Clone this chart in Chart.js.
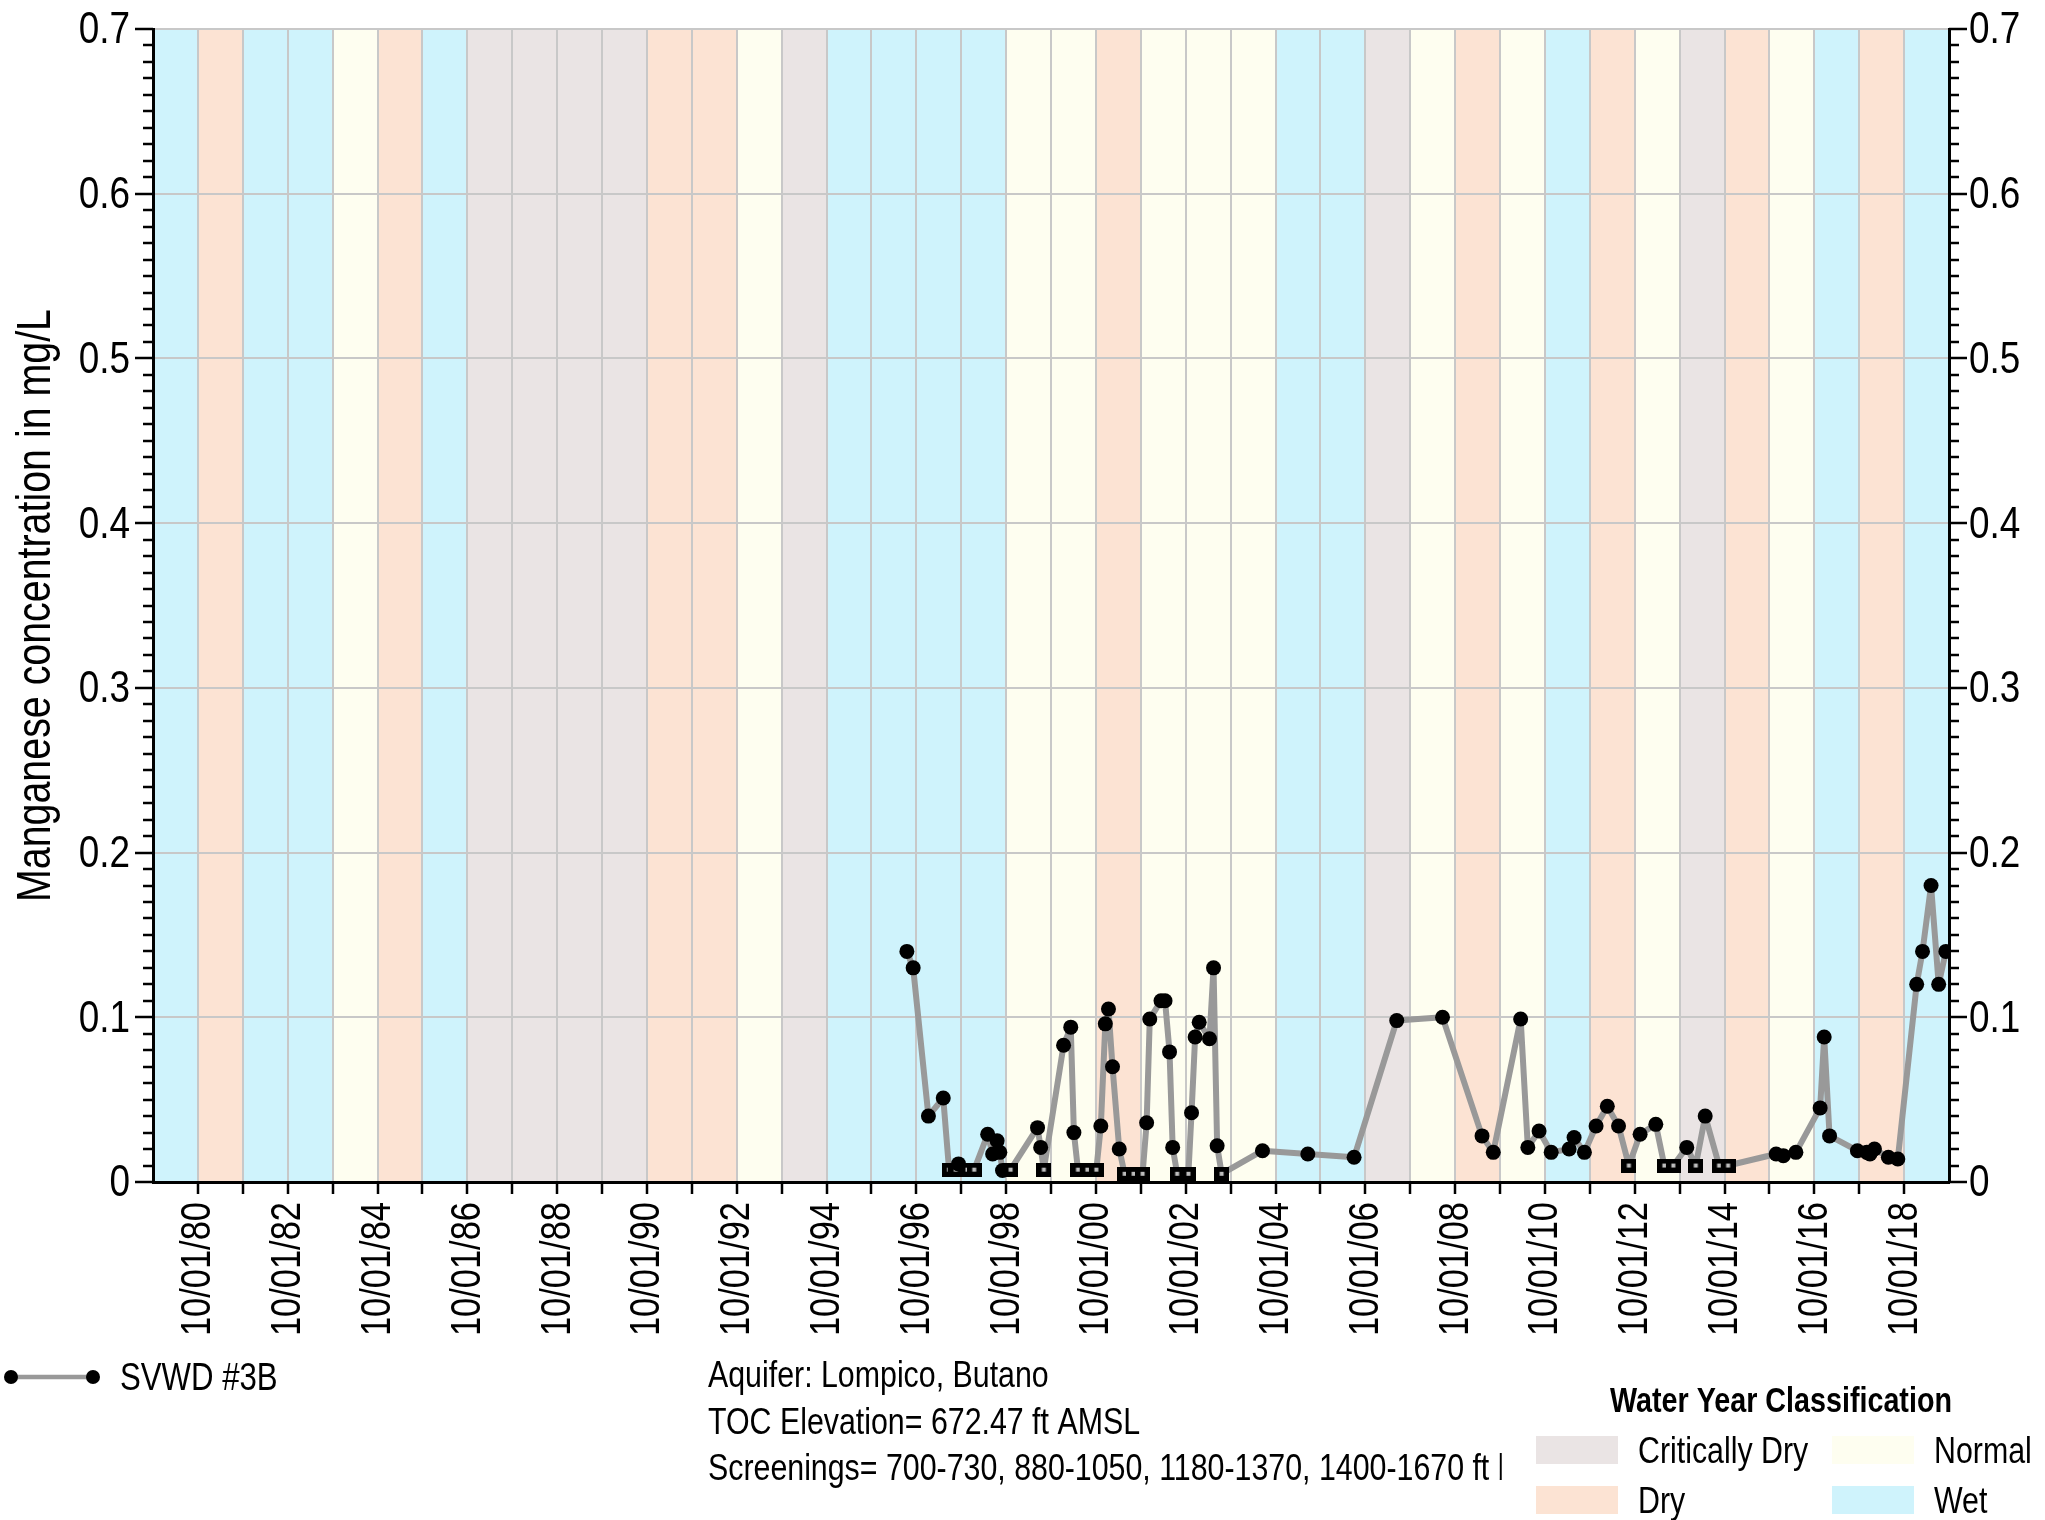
<!DOCTYPE html>
<html>
<head>
<meta charset="utf-8">
<script src="https://cdn.jsdelivr.net/npm/chart.js@4.4.1/dist/chart.umd.min.js"></script>
<style>
html,body{margin:0;padding:0;background:#ffffff;}
canvas{display:block;}
</style>
</head>
<body>
<canvas id="chart" width="2045" height="1520"></canvas>
<script>
// ---------- DATA ----------
const waterYears = [1980,1981,1982,1983,1984,1985,1986,1987,1988,1989,1990,1991,1992,1993,1994,1995,1996,1997,1998,1999,
                    2000,2001,2002,2003,2004,2005,2006,2007,2008,2009,2010,2011,2012,2013,2014,2015,2016,2017,2018,2019];
const waterYearTypes = ['W','D','W','W','N','D','W','C','C','C','C','D','D','N','C','W','W','W','W','N',
                        'N','D','N','N','N','W','W','C','N','D','N','W','D','N','C','D','N','W','D','W'];
const classNames = {C:'Critically Dry', N:'Normal', D:'Dry', W:'Wet'};

// sample dates as decimal years
const sampleYears = [1996.54,1996.68,1997.02,1997.35,1997.48,1997.63,1997.69,1997.89,1998.04,1998.34,1998.45,1998.55,1998.61,1998.67,1998.85,
  1999.45,1999.52,1999.59,2000.03,2000.19,2000.26,2000.35,2000.56,2000.76,2000.86,2000.96,2001.03,2001.12,2001.27,
  2001.39,2001.59,2001.79,2001.88,2001.95,2002.20,2002.29,2002.39,2002.46,2002.56,2002.81,2002.88,2002.96,2003.05,2003.28,2003.37,2003.45,2003.55,
  2004.46,2005.47,2006.50,2007.45,2008.47,2009.35,2009.60,2010.21,2010.37,2010.62,2010.89,2011.29,2011.40,2011.63,2011.89,2012.14,2012.39,2012.62,
  2012.87,2013.22,2013.41,2013.61,2013.91,2014.11,2014.32,2014.63,2014.83,2015.90,2016.06,2016.34,2016.88,2016.97,2017.09,2017.71,2017.92,2017.99,
  2018.09,2018.40,2018.61,2019.03,2019.16,2019.35,2019.52,2019.68];
// manganese concentration, mg/L
const manganese = [0.14,0.13,0.04,0.051,0.0075,0.0075,0.011,0.0075,0.0075,0.029,0.017,0.025,0.018,0.007,0.0075,
  0.033,0.021,0.0075,0.083,0.094,0.030,0.0075,0.0075,0.0075,0.034,0.096,0.105,0.070,0.020,
  0.005,0.005,0.005,0.036,0.099,0.110,0.110,0.079,0.021,0.005,0.005,0.042,0.088,0.097,0.087,0.13,0.022,0.005,
  0.019,0.017,0.015,0.098,0.100,0.028,0.018,0.099,0.021,0.031,0.018,0.020,0.027,0.018,0.034,0.046,0.034,0.010,
  0.029,0.035,0.010,0.010,0.021,0.010,0.040,0.010,0.010,0.017,0.016,0.018,0.045,0.088,0.028,0.019,0.018,0.017,
  0.020,0.015,0.014,0.12,0.14,0.18,0.12,0.14];
// 1 = non-detect (plotted as square at reporting limit)
const nonDetect = [0,0,0,0,1,1,0,1,1,0,0,0,0,0,1,
  0,0,1,0,0,0,1,1,1,0,0,0,0,0,
  1,1,1,0,0,0,0,0,0,1,1,0,0,0,0,0,0,1,
  0,0,0,0,0,0,0,0,0,0,0,0,0,0,0,0,0,1,
  0,0,1,1,0,1,0,1,1,0,0,0,0,0,0,0,0,0,
  0,0,0,0,0,0,0,0];

const xTickYears = [1980,1981,1982,1983,1984,1985,1986,1987,1988,1989,1990,1991,1992,1993,1994,1995,1996,1997,1998,1999,
                    2000,2001,2002,2003,2004,2005,2006,2007,2008,2009,2010,2011,2012,2013,2014,2015,2016,2017,2018];
const yTickValues = [0,0.1,0.2,0.3,0.4,0.5,0.6,0.7];
const yTickLabels = ['0','0.1','0.2','0.3','0.4','0.5','0.6','0.7'];

const seriesName = 'SVWD #3B';
const yTitle = 'Manganese concentration in mg/L';
const infoLines = ['Aquifer: Lompico, Butano','TOC Elevation= 672.47 ft AMSL','Screenings= 700-730, 880-1050, 1180-1370, 1400-1670 ft bgs'];
const legendTitle = 'Water Year Classification';

// ---------- STYLE ----------
const typeColors = {W:'#cff3fc', D:'#fce3d3', N:'#fefef0', C:'#eae4e4'};

function hasFont(name){
  const c = document.createElement('canvas').getContext('2d');
  const s = 'abcdefghijklmnopqrstuvwxyz0123456789ABCDEF';
  c.font = '40px monospace'; const a = c.measureText(s).width;
  c.font = "40px '" + name + "', monospace"; const b = c.measureText(s).width;
  return Math.abs(a-b) > 0.5;
}
const NARROW_OK = hasFont('Liberation Sans Narrow');
const FAM = NARROW_OK ? "'Liberation Sans Narrow'" : "'Liberation Sans', Arial, sans-serif";
const SX = NARROW_OK ? 1 : 0.82;   // horizontal condensing to mimic a narrow face

// draw condensed text; rot in radians
function ntext(ctx, s, x, y, size, align, baseline, bold, rot){
  ctx.save();
  ctx.translate(x, y);
  if (rot) ctx.rotate(rot);
  ctx.scale(SX, 1);
  ctx.font = (bold ? 'bold ' : '') + size + 'px ' + FAM;
  ctx.textAlign = align || 'left';
  ctx.textBaseline = baseline || 'alphabetic';
  ctx.fillStyle = '#000';
  ctx.fillText(s, 0, 0);
  ctx.restore();
}
function nwidth(ctx, s, size, bold){
  ctx.save();
  ctx.font = (bold ? 'bold ' : '') + size + 'px ' + FAM;
  const w = ctx.measureText(s).width * SX;
  ctx.restore();
  return w;
}

const sq = document.createElement('canvas');
sq.width = 15; sq.height = 14;
(function(){
  const g = sq.getContext('2d');
  g.fillStyle = '#000'; g.fillRect(0,0,15,14);
  g.fillStyle = '#bdbdbd'; g.fillRect(5.5,5,4,4);
})();

const points = sampleYears.map((t,i)=>({x:t, y:manganese[i]}));

// ---------- PLUGINS ----------
const bandsPlugin = {
  id:'bands',
  beforeDraw(chart){
    const {ctx, chartArea:a, scales:{x}} = chart;
    ctx.save();
    waterYears.forEach((wy,i)=>{
      const x0 = x.getPixelForValue(wy-1+0.75), x1 = x.getPixelForValue(wy+0.75);
      ctx.fillStyle = typeColors[waterYearTypes[i]];
      ctx.fillRect(x0, a.top, x1-x0, a.bottom-a.top);
    });
    ctx.restore();
  }
};

function seg(ctx,x0,y0,x1,y1){ctx.beginPath();ctx.moveTo(x0,y0);ctx.lineTo(x1,y1);ctx.stroke();}

const decorPlugin = {
  id:'decor',
  afterDraw(chart){
    const {ctx, chartArea:a, scales:{x,y}} = chart;
    ctx.save();
    ctx.strokeStyle = '#000'; ctx.lineWidth = 2.5;
    for(let i=0;i<=70;i++){
      const py = Math.round(y.getPixelForValue(i/100));
      const len = (i%10===0) ? 18 : 10;
      seg(ctx, a.left-len, py, a.left, py);
      seg(ctx, a.right, py, a.right+len, py);
    }
    xTickYears.forEach(yr=>{
      const px = Math.round(x.getPixelForValue(yr+0.75));
      seg(ctx, px, a.bottom, px, a.bottom+12);
    });

    // y tick labels (both sides)
    yTickValues.forEach((v,i)=>{
      const py = y.getPixelForValue(v);
      ntext(ctx, yTickLabels[i], a.left-23, py+2, 45, 'right', 'middle');
      ntext(ctx, yTickLabels[i], a.right+20, py+2, 45, 'left', 'middle');
    });
    // x tick labels (every other year), rotated
    xTickYears.forEach(yr=>{
      if (yr % 2 !== 0) return;
      const px = x.getPixelForValue(yr+0.75);
      ntext(ctx, '10/01/' + String(yr % 100).padStart(2,'0'), px+1, a.bottom+20, 42, 'right', 'middle', false, -Math.PI/2);
    });

    // y title
    ntext(ctx, yTitle, 37, (a.top+a.bottom)/2, 48, 'center', 'middle', false, -Math.PI/2);

    // series legend
    ctx.strokeStyle = '#999999'; ctx.lineWidth = 4.5;
    seg(ctx, 11, 1377, 93, 1377);
    ctx.fillStyle = '#000';
    [11,93].forEach(cx=>{ctx.beginPath();ctx.arc(cx,1377,7,0,Math.PI*2);ctx.fill();});
    ntext(ctx, seriesName, 120, 1390, 38);

    // info text
    ntext(ctx, infoLines[0], 708, 1387, 37);
    ntext(ctx, infoLines[1], 708, 1434, 37);
    const lastVisible = infoLines[2].replace(/bgs$/, '');
    const clipX = 708 + nwidth(ctx, lastVisible, 37) + 4;
    ctx.save();
    ctx.beginPath(); ctx.rect(700, 1440, clipX-700, 60); ctx.clip();
    ntext(ctx, infoLines[2], 708, 1480, 37);
    ctx.restore();

    // water year legend
    ntext(ctx, legendTitle, 1781, 1412, 35, 'center', 'alphabetic', true);
    const items = [['C',1536,1436],['N',1832,1436],['D',1536,1486],['W',1832,1486]];
    items.forEach(([k,bx,by])=>{
      ctx.fillStyle = typeColors[k];
      ctx.fillRect(bx, by, 82, 28);
      ntext(ctx, classNames[k], bx+102, by+27, 37);
    });
    ctx.restore();
  }
};

// ---------- CHART ----------
new Chart(document.getElementById('chart'), {
  type: 'line',
  data: {
    datasets: [{
      label: seriesName,
      data: points,
      borderColor: '#999999',
      borderWidth: 6,
      borderJoinStyle: 'round',
      borderCapStyle: 'round',
      tension: 0,
      pointRadius: 7.5,
      pointHoverRadius: 7.5,
      pointBackgroundColor: '#000',
      pointBorderColor: '#000',
      pointBorderWidth: 0,
      pointStyle: ctx => nonDetect[ctx.dataIndex] ? sq : 'circle'
    }]
  },
  options: {
    responsive: false,
    devicePixelRatio: 1,
    animation: false,
    layout: {padding: {top: 29, left: 0, right: 0, bottom: 0}},
    plugins: {legend: {display: false}, tooltip: {enabled: false}},
    scales: {
      x: {
        type: 'linear', position: 'bottom',
        min: 1979.75, max: 2019.75,
        afterBuildTicks: s => { s.ticks = xTickYears.map(yr => ({value: yr + 0.75})); },
        afterFit: s => { s.height = 338; },
        grid: {color: '#c8c8c8', lineWidth: 2, drawTicks: false},
        border: {display: true, color: '#000', width: 3},
        ticks: {display: false}
      },
      y: {
        type: 'linear', position: 'left',
        min: 0, max: 0.7,
        afterBuildTicks: s => { s.ticks = yTickValues.map(v => ({value: v})); },
        afterFit: s => { s.width = 153; },
        grid: {color: '#c8c8c8', lineWidth: 2, drawTicks: false},
        border: {display: true, color: '#000', width: 3},
        ticks: {display: false}
      },
      y2: {
        type: 'linear', position: 'right',
        min: 0, max: 0.7,
        afterFit: s => { s.width = 96; },
        grid: {display: false, drawOnChartArea: false, drawTicks: false},
        border: {display: true, color: '#000', width: 3},
        ticks: {display: false}
      }
    }
  },
  plugins: [bandsPlugin, decorPlugin]
});
</script>
</body>
</html>
